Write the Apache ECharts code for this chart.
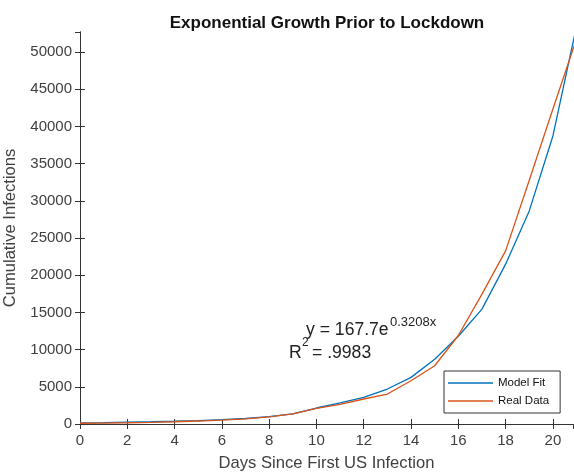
<!DOCTYPE html>
<html>
<head>
<meta charset="utf-8">
<script src="https://cdn.jsdelivr.net/npm/echarts@6/dist/echarts.min.js"></script>
<style>
  html, body { margin: 0; padding: 0; background: #fff; }
  #chart { width: 574px; height: 474px; }
</style>
</head>
<body>
<div id="chart"></div>
<script>
// data
const days = [0, 1, 2, 3, 4, 5, 6, 7, 8, 9, 10, 11, 12, 13, 14, 15, 16, 17, 18, 19, 20, 21];
const modelFit = [150, 190, 240, 300, 370, 460, 580, 740, 980, 1350, 2150, 2850, 3580, 4700, 6270, 8700, 11800, 15440, 21490, 28650, 38720, 53500];
const realData = [100, 130, 170, 230, 300, 400, 530, 700, 950, 1350, 2100, 2650, 3360, 4030, 5820, 7830, 11900, 17460, 23280, 32760, 42350, 51800];
const xTicks = { min: 0, max: 20.85, interval: 2 };
const yTicks = { min: 0, max: 52700, interval: 5000 };

const font = 'Liberation Sans, Arial, Helvetica, sans-serif';
const axisColor = '#333';
const labelColor = '#404040';

function pairs(xs, ys) {
    return xs.map((x, i) => [x, ys[i]]);
}

function initChart() {
    const chart = echarts.init(document.getElementById('chart'));

    const baseX = {
        type: 'value',
        min: xTicks.min,
        max: xTicks.max,
        interval: xTicks.interval,
        axisLine: { show: true, lineStyle: { color: axisColor, width: 1 } },
        axisTick: { show: true, inside: true, length: 5, lineStyle: { color: axisColor } },
        splitLine: { show: false }
    };
    const baseY = {
        type: 'value',
        min: yTicks.min,
        max: yTicks.max,
        interval: yTicks.interval,
        axisLine: { show: true, lineStyle: { color: axisColor, width: 1 } },
        axisTick: { show: true, inside: true, length: 5, lineStyle: { color: axisColor } },
        splitLine: { show: false }
    };

    const option = {
        animation: false,
        backgroundColor: '#fff',
        title: {
            text: 'Exponential Growth Prior to Lockdown',
            left: 322,
            textAlign: 'center',
            top: 10,
            textStyle: { fontFamily: font, fontSize: 17, fontWeight: 'bold', color: '#111' }
        },
        grid: { left: 80, right: 1, top: 32, bottom: 50, outerBoundsMode: 'none' },
        legend: {
            orient: 'vertical',
            left: 444,
            top: 371,
            padding: [6, 11, 6, 4],
            itemGap: 6,
            itemWidth: 45,
            itemHeight: 1.5,
            icon: 'rect',
            backgroundColor: '#fff',
            borderColor: '#333',
            borderWidth: 1,
            borderRadius: 0,
            textStyle: { fontFamily: font, fontSize: 11.5, color: '#111' },
            data: ['Model Fit', 'Real Data']
        },
        xAxis: [
            Object.assign({}, baseX, {
                position: 'bottom',
                name: 'Days Since First US Infection',
                nameLocation: 'middle',
                nameGap: 31,
                nameTextStyle: { fontFamily: font, fontSize: 16.6, color: labelColor },
                axisLabel: {
                    fontFamily: font, fontSize: 15, color: labelColor, margin: 9,
                    showMaxLabel: false,
                    formatter: v => (v % 2 === 0 ? String(v) : '')
                }
            }),
            Object.assign({}, baseX, {
                position: 'top',
                axisLabel: { show: false }
            })
        ],
        yAxis: [
            Object.assign({}, baseY, {
                position: 'left',
                name: 'Cumulative Infections',
                nameLocation: 'middle',
                nameGap: 49,
                nameTextStyle: { fontFamily: font, fontSize: 16.6, color: labelColor },
                axisLabel: {
                    fontFamily: font, fontSize: 15, color: labelColor, margin: 8,
                    showMaxLabel: false,
                    formatter: v => (v % 5000 === 0 ? String(v) : '')
                }
            }),
            Object.assign({}, baseY, {
                position: 'right',
                axisLabel: { show: false }
            })
        ],
        series: [
            {
                name: 'Model Fit',
                type: 'line',
                data: pairs(days, modelFit),
                symbol: 'none',
                color: '#0072BD',
                lineStyle: { color: '#0072BD', width: 1.3 }
            },
            {
                name: 'Real Data',
                type: 'line',
                data: pairs(days, realData),
                symbol: 'none',
                color: '#D95319',
                lineStyle: { color: '#D95319', width: 1.3 }
            }
        ],
        graphic: [
            {
                type: 'text', left: 306, top: 321,
                style: { text: 'y = 167.7e', fontFamily: font, fontSize: 17.6, fill: '#222' }
            },
            {
                type: 'text', left: 390, top: 316,
                style: { text: '0.3208x', fontFamily: font, fontSize: 13, fill: '#222' }
            },
            {
                type: 'text', left: 289, top: 344,
                style: { text: 'R', fontFamily: font, fontSize: 17.6, fill: '#222' }
            },
            {
                type: 'text', left: 302, top: 337,
                style: { text: '2', fontFamily: font, fontSize: 12, fill: '#222' }
            },
            {
                type: 'text', left: 312, top: 344,
                style: { text: '= .9983', fontFamily: font, fontSize: 17.6, fill: '#222' }
            }
        ]
    };

    chart.setOption(option);
    window.addEventListener('resize', () => chart.resize());
}

document.addEventListener('DOMContentLoaded', initChart);
</script>
</body>
</html>
